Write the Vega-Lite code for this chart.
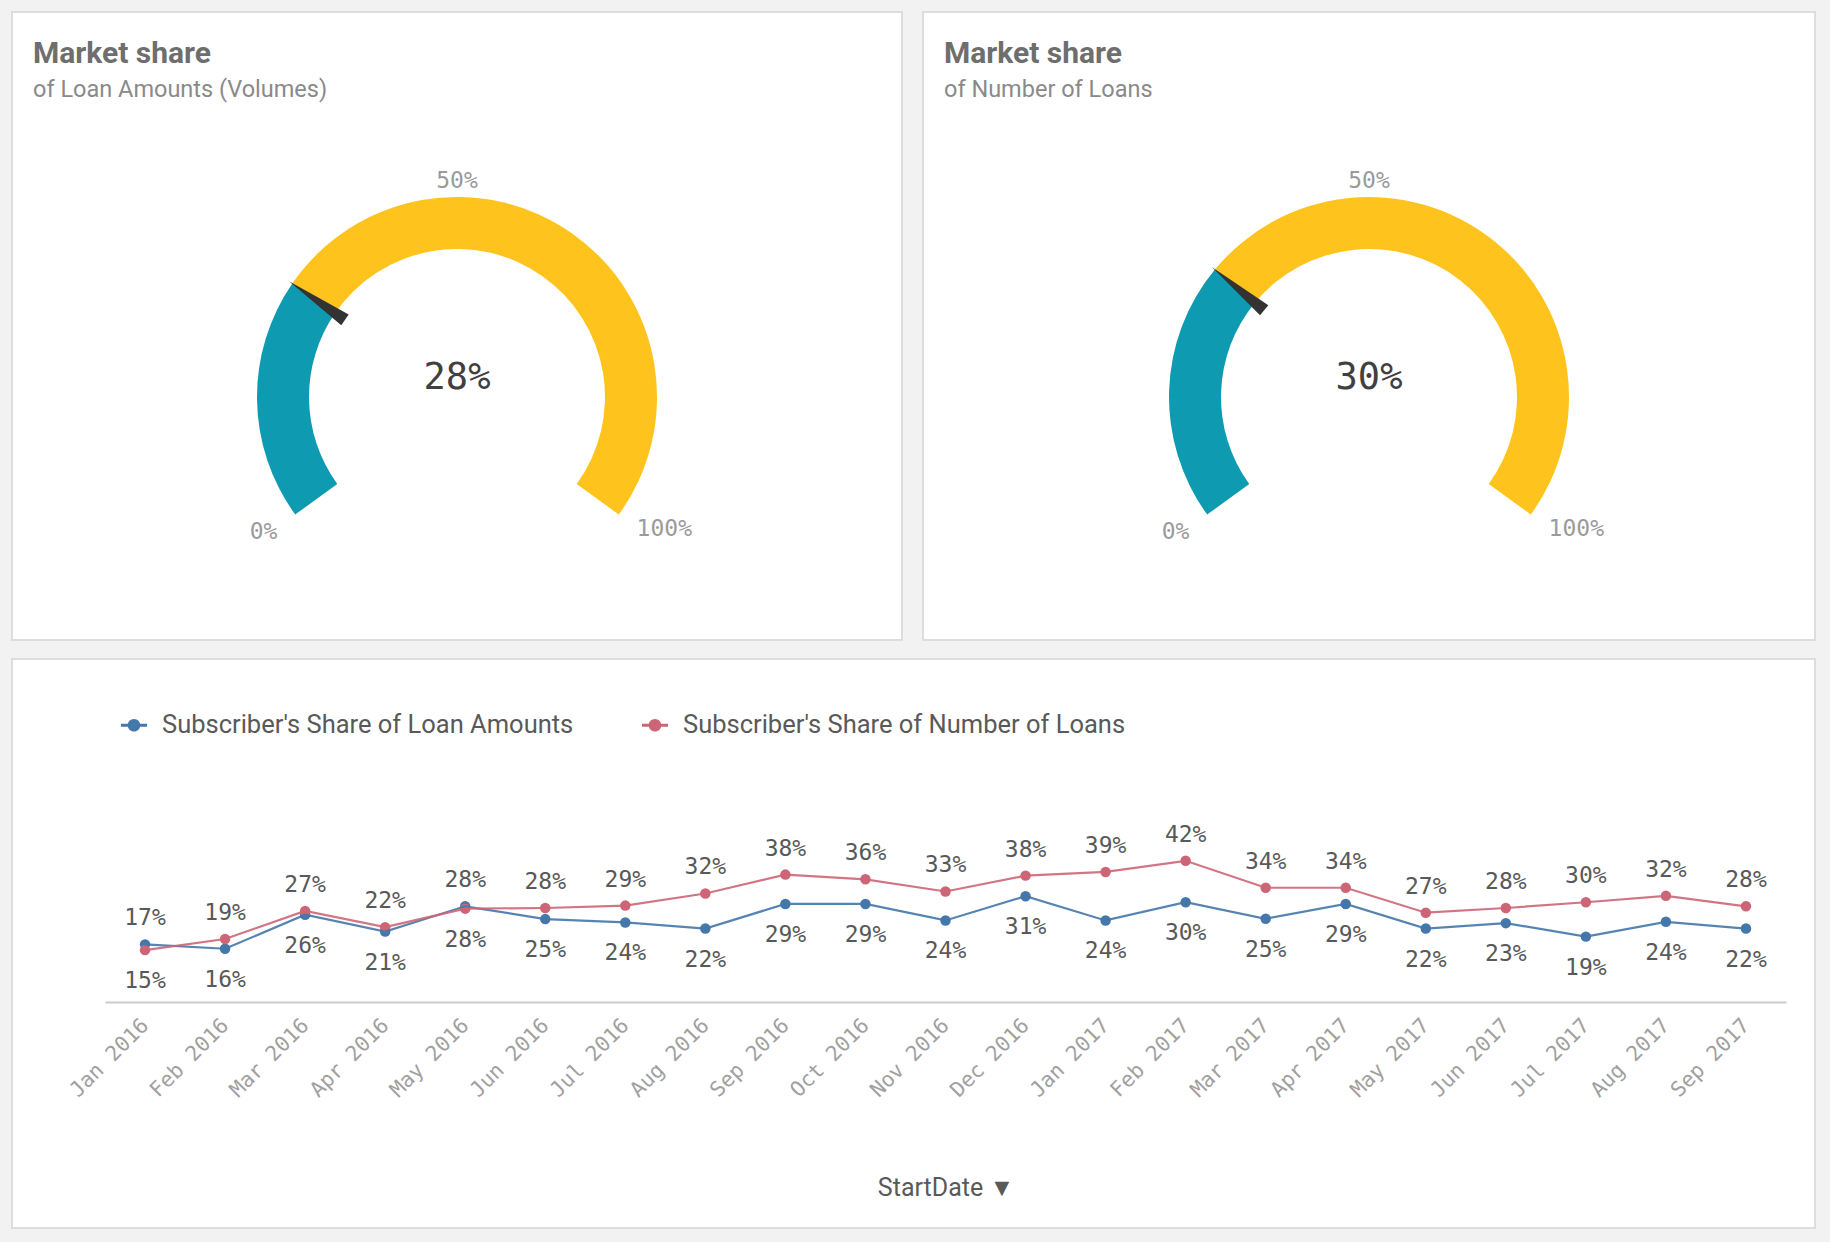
{
  "$schema": "https://vega.github.io/schema/vega-lite/v6.json",
  "background": "#f2f2f2",
  "padding": {"left": 11, "top": 11, "right": 14, "bottom": 13},
  "spacing": 17,
  "resolve": {"scale": {"color": "independent", "theta": "independent", "angle": "independent", "x": "independent", "y": "independent"}, "legend": {"color": "independent"}},
  "config": {
    "view": {"fill": "#ffffff", "stroke": "#dddddd", "strokeWidth": 2},
    "font": "Roboto"
  },
  "vconcat": [
    {
      "hconcat": [
        {
          "width": 890,
          "height": 628,
          "view": {"fill": "#ffffff", "stroke": "#dddddd", "strokeWidth": 2},
          "title": {"text": "Market share", "subtitle": "of Loan Amounts (Volumes)", "anchor": "start", "frame": "group", "offset": -89, "dx": 21, "font": "Roboto", "fontSize": 30, "fontWeight": "bold", "color": "#6e6e6e", "subtitleFont": "Roboto", "subtitleFontSize": 23.5, "subtitleColor": "#8a8a8a", "subtitlePadding": 8.5},
          "encoding": {
            "x": {"datum": 0.5, "type": "quantitative", "scale": {"domain": [0, 1]}, "axis": null},
            "y": {"datum": 0.5, "type": "quantitative", "scale": {"domain": [0, 1]}, "axis": null}
          },
          "layer": [
            {
              "data": {"values": [{"part": "share", "from": 0, "to": 0.28}, {"part": "rest", "from": 0.28, "to": 1}]},
              "mark": {"type": "arc", "radius": 200, "radius2": 148, "yOffset": 71},
              "encoding": {
                "theta": {"field": "from", "type": "quantitative", "stack": null, "scale": {"domain": [0, 1], "range": [-2.19911, 2.19911]}},
                "theta2": {"field": "to"},
                "color": {"field": "part", "type": "nominal", "scale": {"domain": ["share", "rest"], "range": ["#0e9bb1", "#ffc31d"]}, "legend": null}
              }
            },
            {
              "data": {"values": [{"value": 0.28}]},
              "mark": {"type": "point", "shape": "M-0.032,-0.667L0,-1L0.032,-0.667Z", "size": 166464, "filled": true, "color": "#333333", "opacity": 1, "yOffset": 71},
              "encoding": {"angle": {"field": "value", "type": "quantitative", "scale": {"domain": [0, 1], "range": [-126, 126]}}}
            },
            {
              "data": {"values": [{"pos": 0}]},
              "mark": {"type": "text", "radius": 222, "yOffset": 76, "font": "DejaVu Sans Mono", "fontSize": 23, "color": "#9a9a9a", "baseline": "middle", "align": "right"},
              "encoding": {"theta": {"field": "pos", "type": "quantitative", "stack": null}, "text": {"field": "pos", "type": "quantitative", "format": ".0%"}}
            },
            {
              "data": {"values": [{"pos": 0.5}]},
              "mark": {"type": "text", "radius": 216, "yOffset": 71, "font": "DejaVu Sans Mono", "fontSize": 23, "color": "#9a9a9a", "baseline": "middle", "align": "center"},
              "encoding": {"theta": {"field": "pos", "type": "quantitative", "stack": null}, "text": {"field": "pos", "type": "quantitative", "format": ".0%"}}
            },
            {
              "data": {"values": [{"pos": 1}]},
              "mark": {"type": "text", "radius": 222, "yOffset": 73, "font": "DejaVu Sans Mono", "fontSize": 23, "color": "#9a9a9a", "baseline": "middle", "align": "left"},
              "encoding": {"theta": {"field": "pos", "type": "quantitative", "stack": null}, "text": {"field": "pos", "type": "quantitative", "format": ".0%"}}
            },
            {
              "data": {"values": [{"value": 0.28}]},
              "mark": {"type": "text", "yOffset": 52, "font": "DejaVu Sans Mono", "fontSize": 37, "color": "#404040", "baseline": "middle"},
              "encoding": {"text": {"field": "value", "type": "quantitative", "format": ".0%"}}
            }
          ]
        },
        {
          "width": 892,
          "height": 628,
          "view": {"fill": "#ffffff", "stroke": "#dddddd", "strokeWidth": 2},
          "title": {"text": "Market share", "subtitle": "of Number of Loans", "anchor": "start", "frame": "group", "offset": -89, "dx": 21, "font": "Roboto", "fontSize": 30, "fontWeight": "bold", "color": "#6e6e6e", "subtitleFont": "Roboto", "subtitleFontSize": 23.5, "subtitleColor": "#8a8a8a", "subtitlePadding": 8.5},
          "encoding": {
            "x": {"datum": 0.5, "type": "quantitative", "scale": {"domain": [0, 1]}, "axis": null},
            "y": {"datum": 0.5, "type": "quantitative", "scale": {"domain": [0, 1]}, "axis": null}
          },
          "layer": [
            {
              "data": {"values": [{"part": "share", "from": 0, "to": 0.30}, {"part": "rest", "from": 0.30, "to": 1}]},
              "mark": {"type": "arc", "radius": 200, "radius2": 148, "yOffset": 71},
              "encoding": {
                "theta": {"field": "from", "type": "quantitative", "stack": null, "scale": {"domain": [0, 1], "range": [-2.19911, 2.19911]}},
                "theta2": {"field": "to"},
                "color": {"field": "part", "type": "nominal", "scale": {"domain": ["share", "rest"], "range": ["#0e9bb1", "#ffc31d"]}, "legend": null}
              }
            },
            {
              "data": {"values": [{"value": 0.30}]},
              "mark": {"type": "point", "shape": "M-0.032,-0.667L0,-1L0.032,-0.667Z", "size": 166464, "filled": true, "color": "#333333", "opacity": 1, "yOffset": 71},
              "encoding": {"angle": {"field": "value", "type": "quantitative", "scale": {"domain": [0, 1], "range": [-126, 126]}}}
            },
            {
              "data": {"values": [{"pos": 0}]},
              "mark": {"type": "text", "radius": 222, "yOffset": 76, "font": "DejaVu Sans Mono", "fontSize": 23, "color": "#9a9a9a", "baseline": "middle", "align": "right"},
              "encoding": {"theta": {"field": "pos", "type": "quantitative", "stack": null}, "text": {"field": "pos", "type": "quantitative", "format": ".0%"}}
            },
            {
              "data": {"values": [{"pos": 0.5}]},
              "mark": {"type": "text", "radius": 216, "yOffset": 71, "font": "DejaVu Sans Mono", "fontSize": 23, "color": "#9a9a9a", "baseline": "middle", "align": "center"},
              "encoding": {"theta": {"field": "pos", "type": "quantitative", "stack": null}, "text": {"field": "pos", "type": "quantitative", "format": ".0%"}}
            },
            {
              "data": {"values": [{"pos": 1}]},
              "mark": {"type": "text", "radius": 222, "yOffset": 73, "font": "DejaVu Sans Mono", "fontSize": 23, "color": "#9a9a9a", "baseline": "middle", "align": "left"},
              "encoding": {"theta": {"field": "pos", "type": "quantitative", "stack": null}, "text": {"field": "pos", "type": "quantitative", "format": ".0%"}}
            },
            {
              "data": {"values": [{"value": 0.30}]},
              "mark": {"type": "text", "yOffset": 52, "font": "DejaVu Sans Mono", "fontSize": 37, "color": "#404040", "baseline": "middle"},
              "encoding": {"text": {"field": "value", "type": "quantitative", "format": ".0%"}}
            }
          ]
        }
      ],
      "spacing": 19,
      "resolve": {"scale": {"color": "independent", "theta": "independent", "angle": "independent", "x": "independent", "y": "independent"}}
    },
    {
      "width": 1803,
      "height": 569,
      "data": {"values": [
        {"month": "Jan 2016", "series": "Subscriber's Share of Loan Amounts", "value": 0.171},
        {"month": "Feb 2016", "series": "Subscriber's Share of Loan Amounts", "value": 0.158},
        {"month": "Mar 2016", "series": "Subscriber's Share of Loan Amounts", "value": 0.259},
        {"month": "Apr 2016", "series": "Subscriber's Share of Loan Amounts", "value": 0.209},
        {"month": "May 2016", "series": "Subscriber's Share of Loan Amounts", "value": 0.284},
        {"month": "Jun 2016", "series": "Subscriber's Share of Loan Amounts", "value": 0.246},
        {"month": "Jul 2016", "series": "Subscriber's Share of Loan Amounts", "value": 0.236},
        {"month": "Aug 2016", "series": "Subscriber's Share of Loan Amounts", "value": 0.218},
        {"month": "Sep 2016", "series": "Subscriber's Share of Loan Amounts", "value": 0.291},
        {"month": "Oct 2016", "series": "Subscriber's Share of Loan Amounts", "value": 0.291},
        {"month": "Nov 2016", "series": "Subscriber's Share of Loan Amounts", "value": 0.242},
        {"month": "Dec 2016", "series": "Subscriber's Share of Loan Amounts", "value": 0.314},
        {"month": "Jan 2017", "series": "Subscriber's Share of Loan Amounts", "value": 0.242},
        {"month": "Feb 2017", "series": "Subscriber's Share of Loan Amounts", "value": 0.296},
        {"month": "Mar 2017", "series": "Subscriber's Share of Loan Amounts", "value": 0.247},
        {"month": "Apr 2017", "series": "Subscriber's Share of Loan Amounts", "value": 0.291},
        {"month": "May 2017", "series": "Subscriber's Share of Loan Amounts", "value": 0.218},
        {"month": "Jun 2017", "series": "Subscriber's Share of Loan Amounts", "value": 0.234},
        {"month": "Jul 2017", "series": "Subscriber's Share of Loan Amounts", "value": 0.194},
        {"month": "Aug 2017", "series": "Subscriber's Share of Loan Amounts", "value": 0.238},
        {"month": "Sep 2017", "series": "Subscriber's Share of Loan Amounts", "value": 0.218},
        {"month": "Jan 2016", "series": "Subscriber's Share of Number of Loans", "value": 0.154},
        {"month": "Feb 2016", "series": "Subscriber's Share of Number of Loans", "value": 0.187},
        {"month": "Mar 2016", "series": "Subscriber's Share of Number of Loans", "value": 0.270},
        {"month": "Apr 2016", "series": "Subscriber's Share of Number of Loans", "value": 0.222},
        {"month": "May 2016", "series": "Subscriber's Share of Number of Loans", "value": 0.277},
        {"month": "Jun 2016", "series": "Subscriber's Share of Number of Loans", "value": 0.279},
        {"month": "Jul 2016", "series": "Subscriber's Share of Number of Loans", "value": 0.286},
        {"month": "Aug 2016", "series": "Subscriber's Share of Number of Loans", "value": 0.322},
        {"month": "Sep 2016", "series": "Subscriber's Share of Number of Loans", "value": 0.378},
        {"month": "Oct 2016", "series": "Subscriber's Share of Number of Loans", "value": 0.364},
        {"month": "Nov 2016", "series": "Subscriber's Share of Number of Loans", "value": 0.328},
        {"month": "Dec 2016", "series": "Subscriber's Share of Number of Loans", "value": 0.375},
        {"month": "Jan 2017", "series": "Subscriber's Share of Number of Loans", "value": 0.386},
        {"month": "Feb 2017", "series": "Subscriber's Share of Number of Loans", "value": 0.419},
        {"month": "Mar 2017", "series": "Subscriber's Share of Number of Loans", "value": 0.339},
        {"month": "Apr 2017", "series": "Subscriber's Share of Number of Loans", "value": 0.339},
        {"month": "May 2017", "series": "Subscriber's Share of Number of Loans", "value": 0.265},
        {"month": "Jun 2017", "series": "Subscriber's Share of Number of Loans", "value": 0.279},
        {"month": "Jul 2017", "series": "Subscriber's Share of Number of Loans", "value": 0.296},
        {"month": "Aug 2017", "series": "Subscriber's Share of Number of Loans", "value": 0.315},
        {"month": "Sep 2017", "series": "Subscriber's Share of Number of Loans", "value": 0.284}
      ]},
      "transform": [
        {"joinaggregate": [{"op": "max", "field": "value", "as": "maxv"}], "groupby": ["month"]}
      ],
      "encoding": {
        "x": {
          "field": "month", "type": "ordinal", "sort": null,
          "scale": {"type": "point", "range": [93, 1774], "padding": 0.5},
          "axis": {"orient": "bottom", "offset": -226, "title": "StartDate  ▼", "titleFont": "Roboto", "titleFontSize": 25, "titleFontWeight": "normal", "titleColor": "#595959", "titleY": 185, "titleBaseline": "middle", "labelAngle": -45, "labelAlign": "right", "labelBaseline": "middle", "labelFont": "DejaVu Sans Mono", "labelFontSize": 21, "labelColor": "#a0a0a0", "labelPadding": 20, "labelOverlap": false, "ticks": false, "domainColor": "#cccccc", "domainWidth": 2, "grid": false}
        },
        "y": {"field": "value", "type": "quantitative", "scale": {"domain": [0, 1], "range": [343, 6]}, "axis": null},
        "color": {"field": "series", "type": "nominal", "scale": {"domain": ["Subscriber's Share of Loan Amounts", "Subscriber's Share of Number of Loans"], "range": ["#4477aa", "#cc6677"]},
          "legend": {"orient": "none", "legendX": 109, "legendY": 53, "direction": "horizontal", "title": null, "symbolType": "M-1,-0.115L1,-0.115L1,0.115L-1,0.115Z M-0.485,0A0.485,0.485 0 1,1 0.485,0A0.485,0.485 0 1,1 -0.485,0Z", "symbolSize": 676, "symbolStrokeWidth": 0, "symbolOpacity": 1, "labelFont": "Roboto", "labelFontSize": 25.5, "labelColor": "#595959", "labelOffset": 15, "labelLimit": 0, "columnPadding": 68}}
      },
      "layer": [
        {
          "mark": {"type": "point", "filled": true, "size": 110, "opacity": 1}
        },
        {
          "mark": {"type": "line", "strokeWidth": 2.2, "opacity": 0.9}
        },
        {
          "transform": [{"filter": "datum.value >= datum.maxv"}],
          "mark": {"type": "text", "dy": -26, "font": "DejaVu Sans Mono", "fontSize": 23, "baseline": "middle"},
          "encoding": {"text": {"field": "value", "type": "quantitative", "format": ".0%"}, "color": {"value": "#595959"}}
        },
        {
          "transform": [{"filter": "datum.value < datum.maxv"}],
          "mark": {"type": "text", "dy": 31, "font": "DejaVu Sans Mono", "fontSize": 23, "baseline": "middle"},
          "encoding": {"text": {"field": "value", "type": "quantitative", "format": ".0%"}, "color": {"value": "#595959"}}
        }
      ]
    }
  ]
}
